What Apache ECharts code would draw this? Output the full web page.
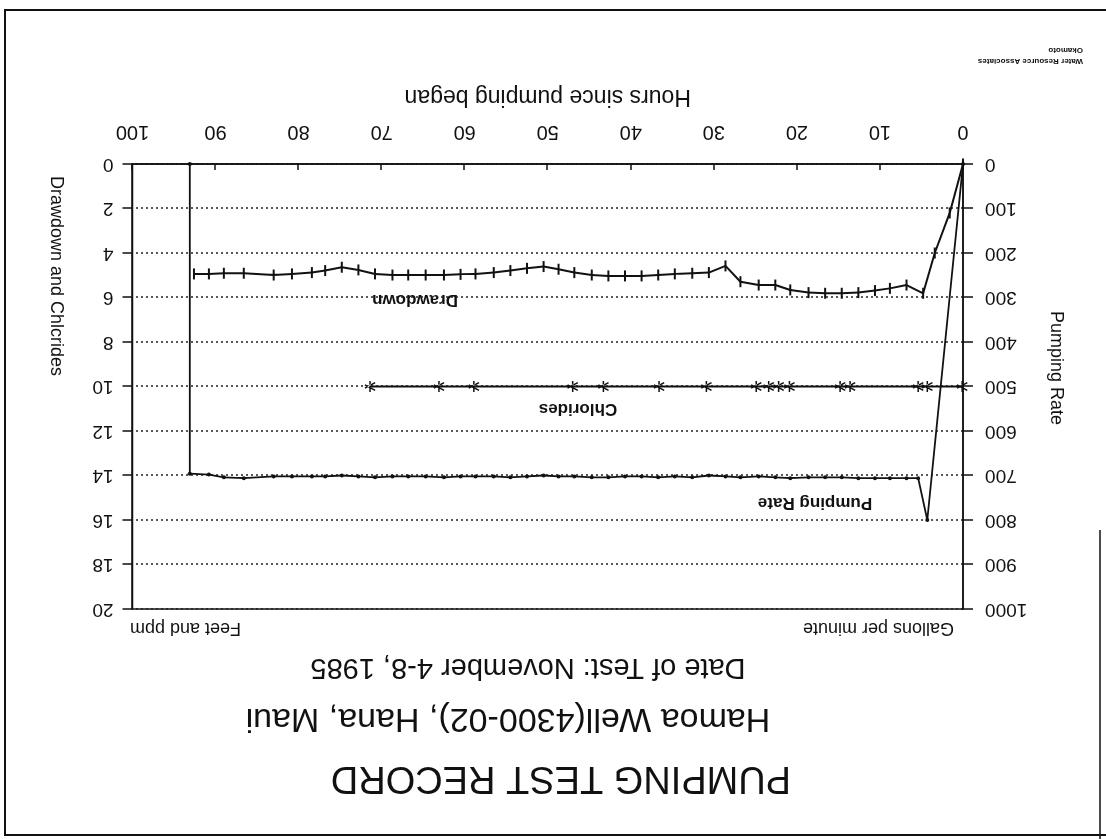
<!DOCTYPE html>
<html>
<head>
<meta charset="utf-8">
<title>Pumping Test Record</title>
<script src="https://cdn.jsdelivr.net/npm/echarts@6/dist/echarts.min.js"></script>
<style>
  html, body { margin: 0; padding: 0; background: #fff; }
  /* the scanned sheet is upside down, so the whole chart is turned round */
  #main { width: 1106px; height: 839px; transform: rotate(180deg); }
</style>
</head>
<body>
<div id="main"></div>
<script>
// pumping rate, gallons per minute
const pumpHours = [0, 4.3, 5.4, 6.8, 8.8, 10.6, 12.6, 14.6, 16.6, 18.6, 20.8, 22.6, 24.6, 26.8, 28.6, 30.6, 32.6, 34.7, 36.7, 38.7, 40.7, 42.7, 44.7, 46.8, 48.7, 50.5, 52.5, 54.5, 56.5, 58.7, 60.5, 62.5, 64.7, 66.8, 68.7, 70.8, 72.8, 74.8, 76.8, 78.4, 80.8, 83.0, 86.6, 89.0, 90.8, 93.1, 93.1]
const pumpRate = [0, 800, 706, 706, 706, 706, 706, 704, 704, 704, 706, 704, 702, 704, 702, 700, 704, 702, 704, 702, 702, 704, 704, 702, 702, 700, 702, 704, 702, 702, 702, 704, 702, 702, 702, 704, 702, 700, 702, 702, 702, 702, 706, 704, 698, 696, 0]

// drawdown, feet
const drawHours = [0, 1.6, 3.4, 4.8, 6.8, 8.8, 10.6, 12.6, 14.6, 16.6, 18.6, 20.8, 22.6, 24.6, 26.8, 28.6, 30.6, 32.6, 34.7, 36.7, 38.7, 40.7, 42.7, 44.7, 46.8, 48.7, 50.5, 52.5, 54.5, 56.5, 58.7, 60.5, 62.5, 64.7, 66.8, 68.7, 70.8, 72.8, 74.8, 76.8, 78.4, 80.8, 83.0, 86.6, 89.0, 90.8, 92.6]
const drawdown = [0, 2.2, 4.0, 5.81, 5.44, 5.59, 5.69, 5.78, 5.81, 5.81, 5.78, 5.66, 5.44, 5.44, 5.29, 4.58, 4.88, 4.91, 4.94, 4.99, 5.03, 5.03, 5.03, 4.99, 4.88, 4.73, 4.61, 4.69, 4.79, 4.88, 4.94, 4.96, 4.99, 4.99, 4.99, 4.99, 4.94, 4.76, 4.64, 4.79, 4.88, 4.94, 4.99, 4.91, 4.91, 4.94, 4.94]

// chlorides, ppm
const chlorHours = [0.1, 4.3, 5.4, 13.6, 14.8, 20.9, 22.2, 23.4, 24.9, 30.9, 36.6, 43.3, 47.0, 58.9, 63.1, 71.4]
const chlorides = [10, 10, 10, 10, 10, 10, 10, 10, 10, 10, 10, 10, 10, 10, 10, 10]

// axis ticks: min, max, step
const hourTicks = [0, 100, 10]
const rateTicks = [0, 1000, 100]
const feetTicks = [0, 20, 2]

const FONT = '"Liberation Sans", Arial, sans-serif'
const INK = '#111'

// asterisk marker used by the chlorides line
const ASTERISK = 'path://M4.4,0h1.2v10h-1.2z M0.6,2.0l0.6,-1l8.2,5l-0.6,1z M0.6,8.0l0.6,1l8.2,-5l-0.6,-1z'

const pair = (xs, ys) => xs.map((x, i) => [x, ys[i]])

const txt = (text, x, y, size, extra) => ({
  type: 'text',
  x, y,
  rotation: (extra && extra.rotation) || 0,
  style: Object.assign({
    text,
    fill: INK,
    fontFamily: FONT,
    fontSize: size,
    align: 'center',
    verticalAlign: 'middle'
  }, extra && extra.style)
})

const chart = echarts.init(document.getElementById('main'))

const option = {
  backgroundColor: '#fff',
  animation: false,
  grid: {
    left: 143, right: 132.5, top: 230, bottom: 164,
    show: true,
    borderColor: INK,
    borderWidth: 1.5
  },
  xAxis: {
    type: 'value',
    min: hourTicks[0], max: hourTicks[1], interval: hourTicks[2],
    name: 'Hours since pumping began',
    nameLocation: 'middle',
    nameGap: 56,
    nameTextStyle: { color: INK, fontFamily: FONT, fontSize: 23 },
    axisLine: { lineStyle: { color: INK, width: 1.5 } },
    axisTick: { inside: true, length: 6, lineStyle: { color: INK, width: 1.5 } },
    axisLabel: { color: INK, fontFamily: FONT, fontSize: 20, margin: 22 },
    splitLine: { show: false }
  },
  yAxis: [
    {
      type: 'value',
      position: 'left',
      min: rateTicks[0], max: rateTicks[1], interval: rateTicks[2],
      axisLine: { show: true, lineStyle: { color: INK, width: 1.5 } },
      axisTick: { show: true, length: 10, lineStyle: { color: INK, width: 1.5 } },
      axisLabel: { color: INK, fontFamily: FONT, fontSize: 19, margin: 22, formatter: v => String(v) },
      splitLine: { show: true, lineStyle: { color: '#222', width: 1.5, type: [2, 3] } }
    },
    {
      type: 'value',
      position: 'right',
      min: feetTicks[0], max: feetTicks[1], interval: feetTicks[2],
      axisLine: { show: true, lineStyle: { color: INK, width: 1.5 } },
      axisTick: { show: true, length: 10, lineStyle: { color: INK, width: 1.5 } },
      axisLabel: { color: INK, fontFamily: FONT, fontSize: 19, margin: 19 },
      splitLine: { show: false }
    }
  ],
  series: [
    {
      name: 'Pumping Rate',
      type: 'line',
      yAxisIndex: 0,
      data: pair(pumpHours, pumpRate),
      symbol: 'circle',
      symbolSize: 4,
      itemStyle: { color: INK },
      lineStyle: { color: INK, width: 1.8 }
    },
    {
      name: 'Drawdown',
      type: 'line',
      yAxisIndex: 1,
      data: pair(drawHours, drawdown),
      symbol: 'rect',
      symbolSize: [2, 11],
      itemStyle: { color: INK },
      lineStyle: { color: INK, width: 2 }
    },
    {
      name: 'Chlorides',
      type: 'line',
      yAxisIndex: 1,
      data: pair(chlorHours, chlorides),
      symbol: ASTERISK,
      symbolSize: 11,
      itemStyle: { color: INK },
      lineStyle: { color: INK, width: 2 }
    }
  ],
  graphic: [
    // titles
    txt('PUMPING TEST RECORD', 545, 62, 38),
    txt('Hamoa Well(4300-02), Hana, Maui', 598, 121, 34),
    txt('Date of Test: November 4-8, 1985', 578, 172, 29),
    // units above the axes
    txt('Gallons per minute', 152, 211, 18, { style: { align: 'left' } }),
    txt('Feet and ppm', 976, 211, 18, { style: { align: 'right' } }),
    // axis titles
    txt('Pumping Rate', 50, 471, 18, { rotation: Math.PI / 2 }),
    txt('Drawdown and Chlcrides', 1050, 563, 18, { rotation: Math.PI / 2 }),
    // line labels inside the plot
    txt('Drawdown', 691, 539, 17, { style: { fontWeight: 'bold' } }),
    txt('Chlorides', 528, 430, 17, { style: { fontWeight: 'bold' } }),
    txt('Pumping Rate', 291, 336, 17, { style: { fontWeight: 'bold' } }),
    // credit
    txt('Water Resource Associates', 23, 778, 8, { style: { align: 'left', fontWeight: 'bold' } }),
    txt('Okamoto', 23, 789, 8, { style: { align: 'left', fontWeight: 'bold' } }),
    // page frame of the scan
    {
      type: 'polyline',
      shape: { points: [[6, 0], [6, 309]] },
      style: { stroke: INK, lineWidth: 1.5, fill: null }
    },
    {
      type: 'polyline',
      shape: { points: [[0, 4], [1101, 4], [1101, 829], [0, 829]] },
      style: { stroke: INK, lineWidth: 2, fill: null }
    }
  ]
}

chart.setOption(option)

window.addEventListener('resize', () => chart.resize())
</script>
</body>
</html>
